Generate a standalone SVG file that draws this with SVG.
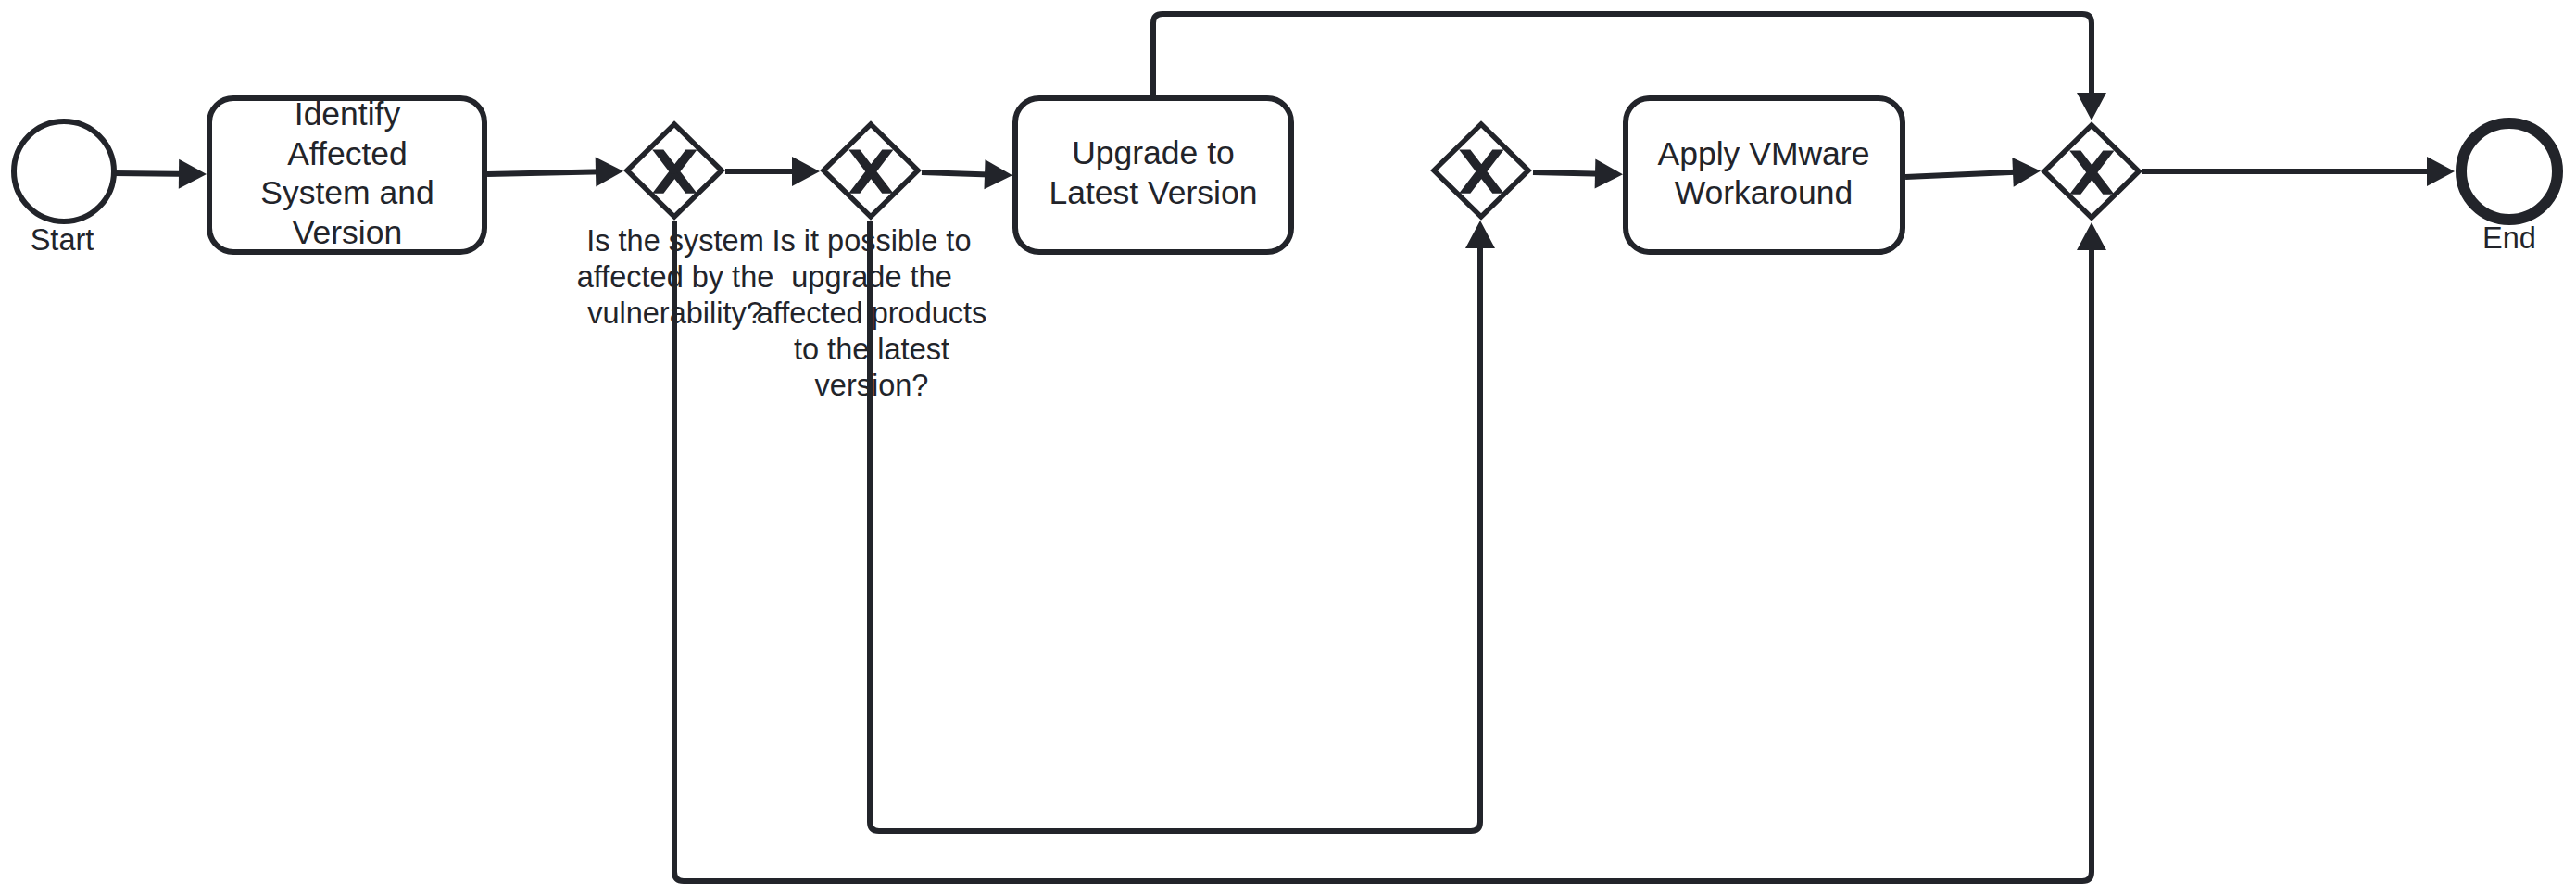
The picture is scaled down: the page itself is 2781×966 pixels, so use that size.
<svg xmlns="http://www.w3.org/2000/svg" width="2781" height="966" viewBox="0 0 2781 966">
<defs>
<style>
.shape{fill:#ffffff;stroke:#22242a;stroke-width:6}
.gw{fill:#ffffff;stroke:#22242a;stroke-width:5.5}
.end{fill:#ffffff;stroke:#22242a;stroke-width:12}
.flow{fill:none;stroke:#22242a;stroke-width:6;marker-end:url(#arrow)}
.xm{fill:#22242a;stroke:#22242a;stroke-width:1.6;stroke-linejoin:miter}
.tt{font-family:"Liberation Sans",Arial,sans-serif;font-size:35.5px;fill:#22242a;text-anchor:middle}
.lt{font-family:"Liberation Sans",Arial,sans-serif;font-size:32.5px;fill:#22242a;text-anchor:middle}
</style>
<marker id="arrow" markerUnits="userSpaceOnUse" viewBox="0 0 30 32" markerWidth="30" markerHeight="32" refX="20" refY="16" orient="auto" overflow="visible">
<path d="M0,0 L30,16 L0,32 z" fill="#22242a"/>
</marker>
<path id="xmark" d="m 16,15 7.42857142857143,9.714285714285715 -7.42857142857143,9.714285714285715 3.428571428571429,0 5.714285714285715,-7.464228571428572 5.714285714285715,7.464228571428572 3.428571428571429,0 -7.42857142857143,-9.714285714285715 7.42857142857143,-9.714285714285715 -3.428571428571429,0 -5.714285714285715,7.464228571428572 -5.714285714285715,-7.464228571428572 -3.428571428571429,0 z"/>
</defs>
<rect x="0" y="0" width="2781" height="966" fill="#ffffff"/>

<g id="connectors">
<path class="flow" d="M123,187 L213,188"/>
<path class="flow" d="M526,188 L663,185"/>
<path class="flow" d="M783,185 L875,185"/>
<path class="flow" d="M995,186 L1083,189"/>
<path class="flow" d="M1655,186 L1742,188"/>
<path class="flow" d="M2057,191 L2193,185"/>
<path class="flow" d="M2313,185 L2640,185"/>
<path class="flow" d="M1245,103 V25 Q1245,15 1255,15 H2248 Q2258,15 2258,25 V120"/>
<path class="flow" d="M728,238 V941 Q728,951 738,951 H2248 Q2258,951 2258,941 V250"/>
<path class="flow" d="M939,238 V887 Q939,897 949,897 H1588 Q1598,897 1598,887 V248"/>
</g>

<g id="start">
<circle class="shape" cx="69" cy="185" r="54"/>
<text class="lt" x="67" y="270">Start</text>
</g>

<g id="task-identify">
<rect class="shape" x="226" y="106" width="297" height="166" rx="26" ry="26"/>
<text class="tt" x="375" y="135">Identify</text>
<text class="tt" x="375" y="177.7">Affected</text>
<text class="tt" x="375" y="220.3">System and</text>
<text class="tt" x="375" y="263">Version</text>
</g>

<g id="gateway-affected">
<polygon class="gw" points="728,134 779,184 728,234 677,184"/>
<use href="#xmark" class="xm" transform="translate(728,185) scale(2.25) translate(-25,-24.7)"/>
<text class="lt" x="729" y="271">Is the system</text>
<text class="lt" x="729" y="310">affected by the</text>
<text class="lt" x="729" y="349">vulnerability?</text>
</g>

<g id="gateway-upgrade">
<polygon class="gw" points="940,134 991,184 940,234 889,184"/>
<use href="#xmark" class="xm" transform="translate(940,185) scale(2.25) translate(-25,-24.7)"/>
<text class="lt" x="941" y="271">Is it possible to</text>
<text class="lt" x="941" y="310">upgrade the</text>
<text class="lt" x="941" y="349">affected products</text>
<text class="lt" x="941" y="388">to the latest</text>
<text class="lt" x="941" y="427">version?</text>
</g>

<g id="task-upgrade">
<rect class="shape" x="1096" y="106" width="298" height="166" rx="26" ry="26"/>
<text class="tt" x="1245" y="177.3">Upgrade to</text>
<text class="tt" x="1245" y="220">Latest Version</text>
</g>

<g id="gateway-workaround">
<polygon class="gw" points="1599,134 1650,184 1599,234 1548,184"/>
<use href="#xmark" class="xm" transform="translate(1599,185) scale(2.25) translate(-25,-24.7)"/>
</g>

<g id="task-apply">
<rect class="shape" x="1755" y="106" width="299" height="166" rx="26" ry="26"/>
<text class="tt" x="1904" y="178">Apply VMware</text>
<text class="tt" x="1904" y="220">Workaround</text>
</g>

<g id="gateway-merge">
<polygon class="gw" points="2258,135 2309,185 2258,235 2207,185"/>
<use href="#xmark" class="xm" transform="translate(2258,186) scale(2.25) translate(-25,-24.7)"/>
</g>

<g id="end">
<circle class="end" cx="2709" cy="185" r="52"/>
<text class="lt" x="2709" y="268">End</text>
</g>
</svg>
